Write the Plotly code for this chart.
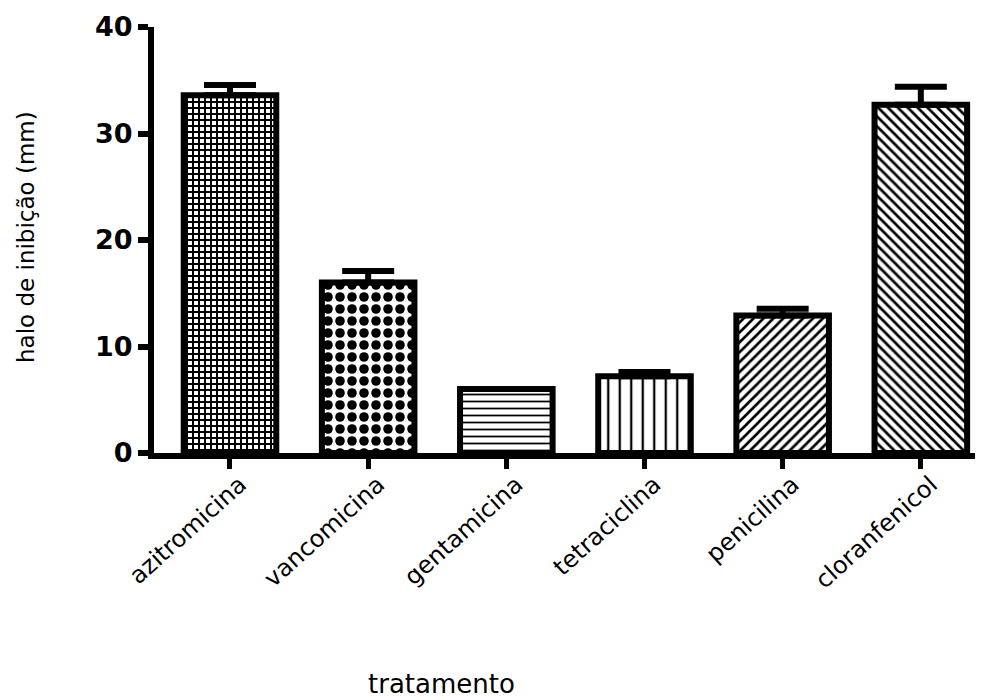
import plotly.graph_objects as go

categories = ["azitromicina", "vancomicina", "gentamicina", "tetraciclina", "penicilina", "cloranfenicol"]
values = [33.6, 16.0, 6.0, 7.2, 12.9, 32.7]
errors = [0.95, 1.1, 0.0, 0.4, 0.65, 1.7]
y_ticks = [0, 10, 20, 30, 40]

patterns = ["+", ".", "-", "|", "/", "\\"]
pat_sizes = [6, 12, 7, 11.5, 7, 7]
pat_solid = [0.55, 0.5, 0.25, 0.2, 0.38, 0.38]

FONT = "DejaVu Sans, Arial, sans-serif"

fig = go.Figure()
fig.add_trace(go.Bar(
    x=categories,
    y=values,
    width=0.67,
    marker=dict(
        color="white",
        line=dict(color="black", width=6),
        pattern=dict(shape=patterns, size=pat_sizes, solidity=pat_solid,
                     fgcolor="black", bgcolor="white", fillmode="replace"),
    ),
    error_y=dict(type="data", symmetric=False, array=errors,
                 arrayminus=[0] * len(errors), color="black", thickness=6, width=26),
    showlegend=False,
))

fig.update_layout(
    width=975, height=692,
    margin=dict(l=146, r=0, t=19, b=247),
    plot_bgcolor="white", paper_bgcolor="white",
    font=dict(family=FONT, color="black"),
    xaxis=dict(
        range=[-0.55, 5.45],
        showline=True, linecolor="black", linewidth=6,
        ticks="outside", ticklen=10, tickwidth=5, tickcolor="black",
        tickangle=-42, tickfont=dict(size=24, family=FONT),
        ticklabelshift=10, ticklabelstandoff=-8,
        showgrid=False, zeroline=False,
    ),
    yaxis=dict(
        range=[0, 40], tickvals=y_ticks,
        showline=True, linecolor="black", linewidth=6,
        ticks="outside", ticklen=10, tickwidth=6, tickcolor="black",
        tickfont=dict(size=27, family=FONT, weight="bold"),
        showgrid=False, zeroline=False,
    ),
    annotations=[
        dict(text="halo de inibição (mm)", xref="paper", yref="paper", x=0, y=0.5,
             xanchor="center", yanchor="middle", xshift=18 - 146, yshift=3, textangle=-90,
             showarrow=False, font=dict(size=23, family=FONT)),
        dict(text="tratamento", xref="paper", yref="paper", x=0, y=0,
             xanchor="center", yanchor="middle", xshift=433 - 146, yshift=-(676 - 445),
             showarrow=False, font=dict(size=26, family=FONT)),
    ],
)

fig.write_html("out.html")
